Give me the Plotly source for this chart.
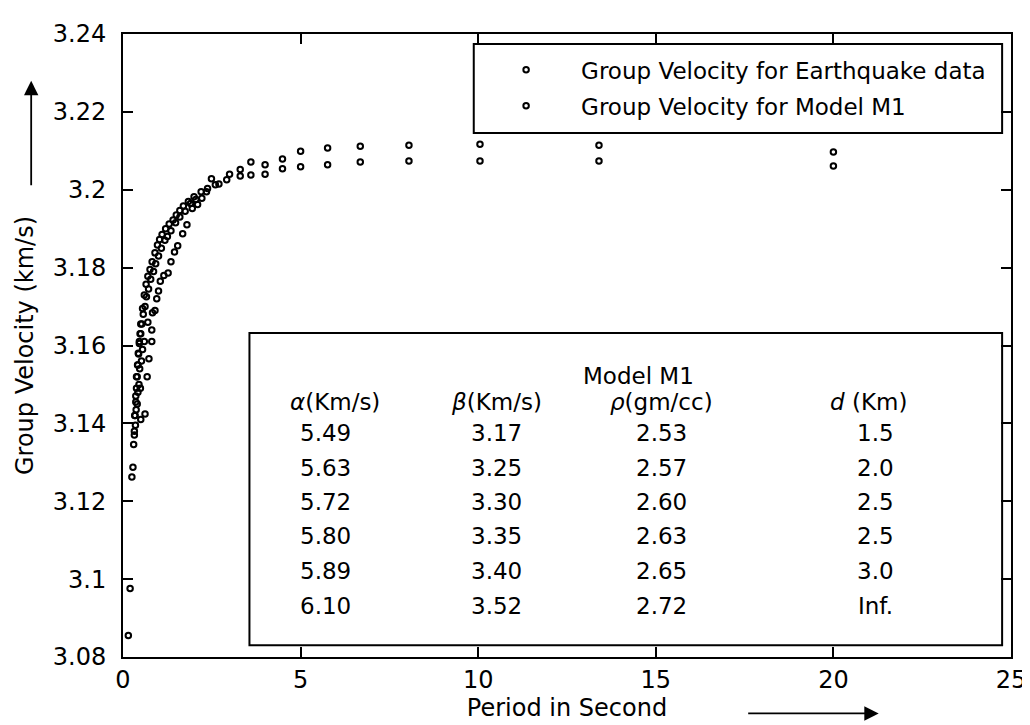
import plotly.graph_objects as go

# Model M1 group velocity (period s, velocity km/s)
model_period = [0.15, 0.2, 0.25, 0.28, 0.3, 0.32, 0.34, 0.36, 0.38, 0.4, 0.42, 0.44,
                0.46, 0.48, 0.5, 0.55, 0.6, 0.65, 0.7, 0.76, 0.82, 0.9, 0.97, 1.03,
                1.1, 1.2, 1.3, 1.41, 1.5, 1.6, 1.7, 1.84, 2.0, 2.2, 2.38, 2.6, 2.92,
                3.3, 3.6, 4.0, 4.49, 5.0, 5.76, 6.68, 8.05, 10.05, 13.4, 20.0]
model_velocity = [3.0855, 3.0976, 3.1262, 3.1287, 3.1346, 3.1380, 3.1420, 3.1455,
                  3.1490, 3.1520, 3.1550, 3.1578, 3.1605, 3.1630, 3.1655, 3.1695,
                  3.1730, 3.1757, 3.1778, 3.1795, 3.1815, 3.1838, 3.1858, 3.1872,
                  3.1885, 3.1900, 3.1912, 3.1922, 3.1935, 3.1947, 3.1958, 3.1970,
                  3.1982, 3.1995, 3.2003, 3.2013, 3.2026, 3.2035, 3.2038, 3.2040,
                  3.2054, 3.2059, 3.2064, 3.2071, 3.2074, 3.2074, 3.2074, 3.2061]

# Earthquake data group velocity
quake_period = [0.32, 0.35, 0.37, 0.4, 0.42, 0.45, 0.5, 0.49, 0.47, 0.52, 0.55, 0.62,
                0.68, 0.73, 0.6, 0.81, 0.81, 0.83, 0.7, 0.9, 0.95, 1.0, 1.05, 1.15,
                1.27, 1.35, 1.45, 1.54, 1.68, 1.8, 1.95, 2.1, 2.22, 2.35, 2.49, 2.7,
                3.0, 3.3, 3.6, 4.0, 4.49, 5.0, 5.76, 6.68, 8.05, 10.05, 13.4, 20.0,
                0.33, 0.36, 0.38, 0.41, 0.43, 0.46, 0.5, 0.53, 0.57, 0.62, 0.66, 0.72,
                0.78, 0.86, 0.92, 1.0, 1.08, 1.18, 1.25, 1.35, 1.48, 1.6, 1.75, 1.9, 2.05]
quake_velocity = [3.1370, 3.1395, 3.1435, 3.1450, 3.1480, 3.1500, 3.1410, 3.1490,
                  3.1540, 3.1560, 3.1590, 3.1424, 3.1520, 3.1566, 3.1610, 3.1610,
                  3.1640, 3.1684, 3.1660, 3.1690, 3.1720, 3.1740, 3.1765, 3.1780,
                  3.1786, 3.1815, 3.1840, 3.1856, 3.1887, 3.1910, 3.1952, 3.1962,
                  3.1978, 3.1995, 3.2028, 3.2015, 3.2040, 3.2052, 3.2071, 3.2064,
                  3.2079, 3.2099, 3.2107, 3.2112, 3.2114, 3.2117, 3.2114, 3.2097,
                  3.1420, 3.1470, 3.1520, 3.1550, 3.1580, 3.1610, 3.1630, 3.1655,
                  3.1680, 3.1700, 3.1725, 3.1745, 3.1770, 3.1790, 3.1810, 3.1830,
                  3.1850, 3.1870, 3.1880, 3.1895, 3.1915, 3.1930, 3.1945, 3.1965, 3.1975]

x_ticks = [0, 5, 10, 15, 20, 25]
y_ticks = [3.08, 3.10, 3.12, 3.14, 3.16, 3.18, 3.20, 3.22, 3.24]
y_tick_text = ["3.08", "3.1", "3.12", "3.14", "3.16", "3.18", "3.2", "3.22", "3.24"]

# Model M1 layer table
table_headers = ["<i>α</i>(Km/s)", "<i>β</i>(Km/s)", "<i>ρ</i>(gm/cc)", "<i>d</i> (Km)"]
alpha = ["5.49", "5.63", "5.72", "5.80", "5.89", "6.10"]
beta = ["3.17", "3.25", "3.30", "3.35", "3.40", "3.52"]
rho = ["2.53", "2.57", "2.60", "2.63", "2.65", "2.72"]
thick = ["1.5", "2.0", "2.5", "2.5", "3.0", "Inf."]

_FONT = "DejaVu Sans, Arial, sans-serif"
_MARKER = {"symbol": "circle-open", "size": 5.5, "color": "black", "line": {"width": 2}}

fig = go.Figure()
fig.add_trace(go.Scatter(x=quake_period, y=quake_velocity, mode="markers",
                         marker=_MARKER, name="Group Velocity for Earthquake data",
                         legendgroup="a"))
fig.add_trace(go.Scatter(x=model_period, y=model_velocity, mode="markers",
                         marker=_MARKER, name="Group Velocity for Model M1",
                         legendgroup="b"))

# legend frame (drawn under the markers so nothing gets hidden)
fig.add_shape(type="rect", xref="paper", yref="paper", x0=0.395, x1=0.990,
              y0=0.841, y1=0.984, line={"color": "black", "width": 2},
              fillcolor="white", layer="below")

# table box and text
fig.add_shape(type="rect", xref="x", yref="y", x0=3.56, x1=24.75, y0=3.083, y1=3.1632,
              line={"color": "black", "width": 2}, fillcolor="white", layer="below")
anns = [dict(x=14.5, y=3.1522, text="Model M1")]
col_x = [5.98, 10.51, 15.16, 21.0]
val_x = [5.7, 10.51, 15.16, 21.19]
for cx, h in zip(col_x, table_headers):
    anns.append(dict(x=cx, y=3.1454, text=h))
row_y = [3.1375, 3.1286, 3.1199, 3.1110, 3.1021, 3.0932]
for col, vx in zip([alpha, beta, rho, thick], val_x):
    for v, ry in zip(col, row_y):
        anns.append(dict(x=vx, y=ry, text=v))
for a in anns:
    fig.add_annotation(xref="x", yref="y", showarrow=False, font={"size": 23}, **a)

# direction arrows beside the axis titles
fig.add_annotation(xref="paper", yref="paper", x=0.851, y=-0.0906, ax=-132, ay=0,
                   text="", showarrow=True, arrowhead=2, arrowsize=1.6, arrowwidth=1.8,
                   arrowcolor="black")
fig.add_annotation(xref="paper", yref="paper", x=-0.1034, y=0.925, ax=0, ay=106,
                   text="", showarrow=True, arrowhead=2, arrowsize=1.6, arrowwidth=1.8,
                   arrowcolor="black")

axis_common = dict(showline=True, linecolor="black", linewidth=2, mirror="ticks",
                   ticks="inside", ticklen=10, tickwidth=1.5, tickcolor="black",
                   showgrid=False, zeroline=False, tickfont={"size": 24})
fig.update_xaxes(range=[0, 25], tickvals=x_ticks, ticklabelstandoff=0,
                 title={"text": "Period in Second", "font": {"size": 24}, "standoff": 0},
                 **axis_common)
fig.update_yaxes(range=[3.08, 3.24], tickvals=y_ticks, ticktext=y_tick_text,
                 ticklabelstandoff=10,
                 title={"text": "Group Velocity (km/s)", "font": {"size": 24}, "standoff": 12},
                 **axis_common)

fig.update_layout(
    width=1030, height=725,
    margin={"l": 115, "r": 16, "t": 20, "b": 76},
    plot_bgcolor="white", paper_bgcolor="white",
    font={"family": _FONT, "color": "black"},
    legend={"x": 0.392, "y": 0.977, "xanchor": "left", "yanchor": "top",
            "borderwidth": 0, "bgcolor": "rgba(0,0,0,0)",
            "font": {"size": 23}, "itemwidth": 100, "tracegroupgap": 3,
            "traceorder": "grouped"},
)

fig.write_html("out.html")
